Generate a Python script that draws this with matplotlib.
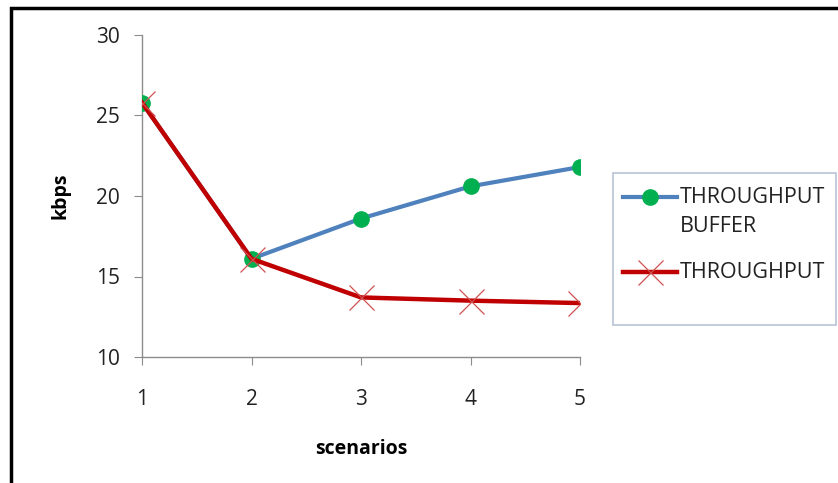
import matplotlib
matplotlib.use('Agg')
import matplotlib.pyplot as plt
from matplotlib.lines import Line2D
from matplotlib.patches import Rectangle

plt.rcParams['font.family'] = ['Open Sans', 'DejaVu Sans']

# scenario index and throughput values (kbps)
scenarios = [1, 2, 3, 4, 5]
throughput_buffer = [25.8, 16.1, 18.6, 20.6, 21.8]
throughput = [25.8, 16.1, 13.7, 13.5, 13.35]
series_labels = ['THROUGHPUT\nBUFFER', 'THROUGHPUT']

BLUE = '#4F81BD'
GREEN = '#00B050'
RED = '#C00000'
RED_MARK = '#D05050'

W, H = 838, 483
fig = plt.figure(figsize=(W / 100, H / 100), dpi=100)
ax = fig.add_axes([142 / W, 1 - 357 / H, 438 / W, 322 / H])

buf_style = dict(color=BLUE, linewidth=3, marker='o', markersize=11,
                 markerfacecolor=GREEN, markeredgecolor=GREEN)
thr_style = dict(color=RED, linewidth=3.2, marker='x', markersize=18,
                 markeredgecolor=RED_MARK, markeredgewidth=0.9)

ax.plot(scenarios, throughput_buffer, zorder=3, **buf_style)
ax.plot(scenarios, throughput, zorder=4, **thr_style)

ax.set_xlim(1, 5)
ax.set_ylim(10, 30)
ax.set_yticks([10, 15, 20, 25, 30])
ax.set_xticks(scenarios)

for side in ('top', 'right'):
    ax.spines[side].set_visible(False)
for side in ('left', 'bottom'):
    ax.spines[side].set_color('#8c8c8c')
    ax.spines[side].set_linewidth(1)
ax.spines['bottom'].set_zorder(5)

ax.tick_params(axis='y', direction='out', length=6, color='#8c8c8c',
               labelsize=15, pad=10, labelcolor='#222222')
ax.tick_params(axis='x', direction='out', length=6, color='#8c8c8c',
               labelsize=15, pad=17, labelcolor='#222222')
for lab in ax.get_xticklabels() + ax.get_yticklabels():
    lab.set_clip_on(False)

ax.set_ylabel('kbps', fontsize=14, fontweight='bold', labelpad=18)
ax.set_xlabel('scenarios', fontsize=14, fontweight='bold', labelpad=21)

# legend built by hand: handle sits on the first text line, loose box padding
def fx(px):
    return px / W


def fy(py):
    return 1 - py / H


for style, label, y in zip([buf_style, thr_style], series_labels, [197, 272]):
    fig.add_artist(Line2D([fx(623), fx(677)], [fy(y), fy(y)], transform=fig.transFigure,
                          color=style['color'], linewidth=style['linewidth']))
    fig.add_artist(Line2D([fx(650)], [fy(y)], transform=fig.transFigure,
                          linestyle='none', **{k: v for k, v in style.items()
                                               if k not in ('color', 'linewidth')}))
    for i, line in enumerate(label.split('\n')):
        fig.text(fx(680), fy(y + 30 * i), line, fontsize=15.5, color='#222222',
                 ha='left', va='center')

fig.patches.append(Rectangle((fx(613), fy(325)), 223 / W, 152 / H,
                             transform=fig.transFigure, fill=False,
                             edgecolor='#b8c4d8', linewidth=1.2))

# outer frame around the chart
fig.patches.append(Rectangle((fx(11), -0.01), 1.0, 1 - 8 / H + 0.01,
                             transform=fig.transFigure, fill=False,
                             edgecolor='black', linewidth=2.5))

fig.savefig('out.png', dpi=100)
